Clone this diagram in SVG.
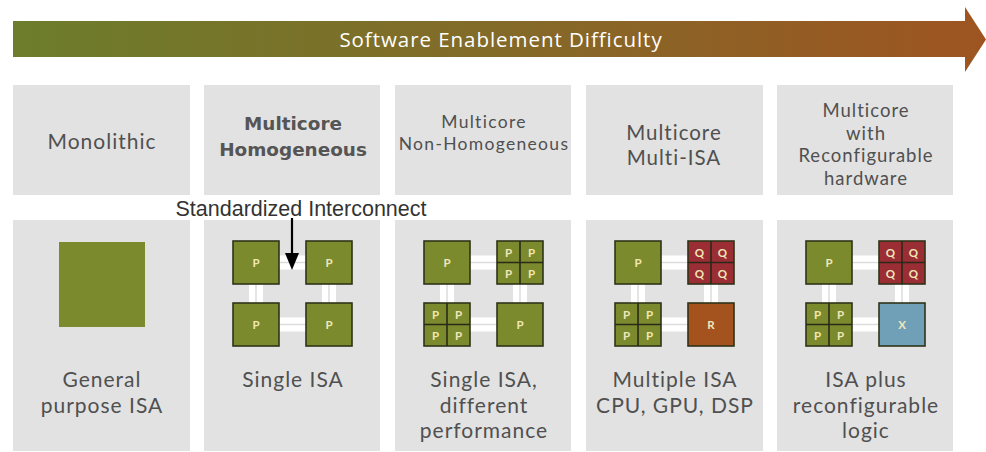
<svg xmlns="http://www.w3.org/2000/svg" width="986" height="452" viewBox="0 0 986 452">
<defs>
<linearGradient id="grad" x1="0" y1="0" x2="1" y2="0">
<stop offset="0" stop-color="#6c7d2b"/>
<stop offset="0.5" stop-color="#836a28"/>
<stop offset="1" stop-color="#9e5421"/>
</linearGradient>
<style>
.panel{fill:#e2e2e2}
.lbl{font-family:Lato,"Open Sans",sans-serif;fill:#505050;text-anchor:middle;letter-spacing:1px}
.hb{font-family:"DejaVu Sans",sans-serif;font-weight:bold;fill:#555;text-anchor:middle;font-size:18.4px}
.chip{stroke:#2f3418;stroke-width:1.6}
.g{fill:#7b8a2c}
.q{fill:#9b2d35}
.r{fill:#a4521e}
.x{fill:#6fa0b8}
.div{stroke:#2a2a18;stroke-width:1.6}
.ct{font-family:Lato,"Open Sans",sans-serif;font-size:11.5px;font-weight:bold;fill:#efe7b8;text-anchor:middle}
.bus{fill:#ffffff}
.busl{stroke:#dcdcdc;stroke-width:1.5}
</style>
</defs>
<rect width="986" height="452" fill="#ffffff"/>

<g id="difficulty-arrow">
<polygon points="13,21 965,21 965,7 986,39.5 965,72 965,57 13,57" fill="url(#grad)"/>
<text x="501" y="47" font-family="'Open Sans','DejaVu Sans',sans-serif" font-size="20.5" letter-spacing="0.95" fill="#ffffff" text-anchor="middle">Software Enablement Difficulty</text>
</g>

<g id="headers">
<g id="h-monolithic"><rect class="panel" x="13" y="85" width="177" height="110"/>
<text class="lbl" x="102" y="149" font-size="21">Monolithic</text></g>
<g id="h-homogeneous"><rect class="panel" x="204" y="85" width="176" height="110"/>
<text class="hb" x="293" y="130">Multicore</text>
<text class="hb" x="293" y="156">Homogeneous</text></g>
<g id="h-nonhomogeneous"><rect class="panel" x="395" y="85" width="176" height="110"/>
<text class="lbl" x="484" y="128" font-size="17.5" style="letter-spacing:1.3px">Multicore</text>
<text class="lbl" x="484" y="150" font-size="17.5" style="letter-spacing:1.3px">Non-Homogeneous</text></g>
<g id="h-multiisa"><rect class="panel" x="586" y="85" width="177" height="110"/>
<text class="lbl" x="674" y="139.5" font-size="20.5">Multicore</text>
<text class="lbl" x="674" y="164.5" font-size="20.5">Multi-ISA</text></g>
<g id="h-reconfig"><rect class="panel" x="777" y="85" width="176" height="110"/>
<text class="lbl" x="866" y="117" font-size="18.5">Multicore</text>
<text class="lbl" x="866" y="139.5" font-size="18.5">with</text>
<text class="lbl" x="866" y="162" font-size="18.5">Reconfigurable</text>
<text class="lbl" x="866" y="184.5" font-size="18.5">hardware</text></g>
</g>

<g id="bottom-panels">
<rect class="panel" x="13" y="220" width="177" height="231"/>
<rect class="panel" x="204" y="220" width="176" height="231"/>
<rect class="panel" x="395" y="220" width="176" height="231"/>
<rect class="panel" x="586" y="220" width="177" height="231"/>
<rect class="panel" x="777" y="220" width="176" height="231"/>
</g>

<g id="connectors">
<rect class="bus" x="279" y="255.5" width="27" height="14"/><line class="busl" x1="279" y1="262.5" x2="306" y2="262.5"/>
<rect class="bus" x="279" y="317.5" width="27" height="14"/><line class="busl" x1="279" y1="324.5" x2="306" y2="324.5"/>
<rect class="bus" x="249" y="284" width="14" height="19"/><line class="busl" x1="256" y1="284" x2="256" y2="303"/>
<rect class="bus" x="322" y="284" width="14" height="19"/><line class="busl" x1="329" y1="284" x2="329" y2="303"/>
<rect class="bus" x="470" y="255.5" width="27" height="14"/><line class="busl" x1="470" y1="262.5" x2="497" y2="262.5"/>
<rect class="bus" x="470" y="317.5" width="27" height="14"/><line class="busl" x1="470" y1="324.5" x2="497" y2="324.5"/>
<rect class="bus" x="440" y="284" width="14" height="19"/><line class="busl" x1="447" y1="284" x2="447" y2="303"/>
<rect class="bus" x="513" y="284" width="14" height="19"/><line class="busl" x1="520" y1="284" x2="520" y2="303"/>
<rect class="bus" x="661" y="255.5" width="27" height="14"/><line class="busl" x1="661" y1="262.5" x2="688" y2="262.5"/>
<rect class="bus" x="661" y="317.5" width="27" height="14"/><line class="busl" x1="661" y1="324.5" x2="688" y2="324.5"/>
<rect class="bus" x="631" y="284" width="14" height="19"/><line class="busl" x1="638" y1="284" x2="638" y2="303"/>
<rect class="bus" x="704" y="284" width="14" height="19"/><line class="busl" x1="711" y1="284" x2="711" y2="303"/>
<rect class="bus" x="852" y="255.5" width="27" height="14"/><line class="busl" x1="852" y1="262.5" x2="879" y2="262.5"/>
<rect class="bus" x="852" y="317.5" width="27" height="14"/><line class="busl" x1="852" y1="324.5" x2="879" y2="324.5"/>
<rect class="bus" x="822" y="284" width="14" height="19"/><line class="busl" x1="829" y1="284" x2="829" y2="303"/>
<rect class="bus" x="895" y="284" width="14" height="19"/><line class="busl" x1="902" y1="284" x2="902" y2="303"/>
<line x1="292" y1="218" x2="292" y2="254" stroke="#000" stroke-width="2.2"/>
<polygon points="285,253 299,253 292,270" fill="#000"/>
</g>

<g id="p1-monolithic">
<rect class="g" x="59" y="242" width="86" height="85"/>
<text class="lbl" x="102" y="387" font-size="21">General</text>
<text class="lbl" x="102" y="413" font-size="21">purpose ISA</text>
</g>

<g id="p2-homogeneous">
<rect class="chip g" x="233" y="241" width="46" height="43"/><text class="ct" x="256" y="266.5">P</text>
<rect class="chip g" x="306" y="241" width="46" height="43"/><text class="ct" x="329" y="266.5">P</text>
<rect class="chip g" x="233" y="303" width="46" height="43"/><text class="ct" x="256" y="328.5">P</text>
<rect class="chip g" x="306" y="303" width="46" height="43"/><text class="ct" x="329" y="328.5">P</text>
<text class="lbl" x="293" y="387" font-size="21">Single ISA</text>
</g>

<g id="p3-nonhomogeneous">
<rect class="chip g" x="424" y="241" width="46" height="43"/><text class="ct" x="447" y="266.5">P</text>
<rect class="chip g" x="497" y="241" width="46" height="43"/>
<line class="div" x1="520" y1="241" x2="520" y2="284"/><line class="div" x1="497" y1="262.5" x2="543" y2="262.5"/>
<text class="ct" x="508.5" y="256.5">P</text><text class="ct" x="531.5" y="256.5">P</text>
<text class="ct" x="508.5" y="277.5">P</text><text class="ct" x="531.5" y="277.5">P</text>
<rect class="chip g" x="424" y="303" width="46" height="43"/>
<line class="div" x1="447" y1="303" x2="447" y2="346"/><line class="div" x1="424" y1="324.5" x2="470" y2="324.5"/>
<text class="ct" x="435.5" y="318.5">P</text><text class="ct" x="458.5" y="318.5">P</text>
<text class="ct" x="435.5" y="339.5">P</text><text class="ct" x="458.5" y="339.5">P</text>
<rect class="chip g" x="497" y="303" width="46" height="43"/><text class="ct" x="520" y="328.5">P</text>
<text class="lbl" x="484" y="387" font-size="21">Single ISA,</text>
<text class="lbl" x="484" y="413" font-size="21">different</text>
<text class="lbl" x="484" y="438" font-size="21">performance</text>
</g>

<g id="p4-multiisa">
<rect class="chip g" x="615" y="241" width="46" height="43"/><text class="ct" x="638" y="266.5">P</text>
<rect class="chip q" x="688" y="241" width="46" height="43"/>
<line class="div" x1="711" y1="241" x2="711" y2="284"/><line class="div" x1="688" y1="262.5" x2="734" y2="262.5"/>
<text class="ct" x="699.5" y="256.5">Q</text><text class="ct" x="722.5" y="256.5">Q</text>
<text class="ct" x="699.5" y="277.5">Q</text><text class="ct" x="722.5" y="277.5">Q</text>
<rect class="chip g" x="615" y="303" width="46" height="43"/>
<line class="div" x1="638" y1="303" x2="638" y2="346"/><line class="div" x1="615" y1="324.5" x2="661" y2="324.5"/>
<text class="ct" x="626.5" y="318.5">P</text><text class="ct" x="649.5" y="318.5">P</text>
<text class="ct" x="626.5" y="339.5">P</text><text class="ct" x="649.5" y="339.5">P</text>
<rect class="chip r" x="688" y="303" width="46" height="43"/><text class="ct" x="711" y="328.5">R</text>
<text class="lbl" x="675" y="387" font-size="21">Multiple ISA</text>
<text class="lbl" x="675" y="413" font-size="21">CPU, GPU, DSP</text>
</g>

<g id="p5-reconfig">
<rect class="chip g" x="806" y="241" width="46" height="43"/><text class="ct" x="829" y="266.5">P</text>
<rect class="chip q" x="879" y="241" width="46" height="43"/>
<line class="div" x1="902" y1="241" x2="902" y2="284"/><line class="div" x1="879" y1="262.5" x2="925" y2="262.5"/>
<text class="ct" x="890.5" y="256.5">Q</text><text class="ct" x="913.5" y="256.5">Q</text>
<text class="ct" x="890.5" y="277.5">Q</text><text class="ct" x="913.5" y="277.5">Q</text>
<rect class="chip g" x="806" y="303" width="46" height="43"/>
<line class="div" x1="829" y1="303" x2="829" y2="346"/><line class="div" x1="806" y1="324.5" x2="852" y2="324.5"/>
<text class="ct" x="817.5" y="318.5">P</text><text class="ct" x="840.5" y="318.5">P</text>
<text class="ct" x="817.5" y="339.5">P</text><text class="ct" x="840.5" y="339.5">P</text>
<rect class="chip x" x="879" y="303" width="46" height="43"/><text class="ct" x="902" y="328.5">X</text>
<text class="lbl" x="866" y="387" font-size="21">ISA plus</text>
<text class="lbl" x="866" y="413" font-size="21">reconfigurable</text>
<text class="lbl" x="866" y="438" font-size="21">logic</text>
</g>

<g id="interconnect-label">
<text x="301" y="216" font-family="'Liberation Sans',Arial,sans-serif" font-size="21.5" fill="#333" text-anchor="middle">Standardized Interconnect</text>
</g>
</svg>
